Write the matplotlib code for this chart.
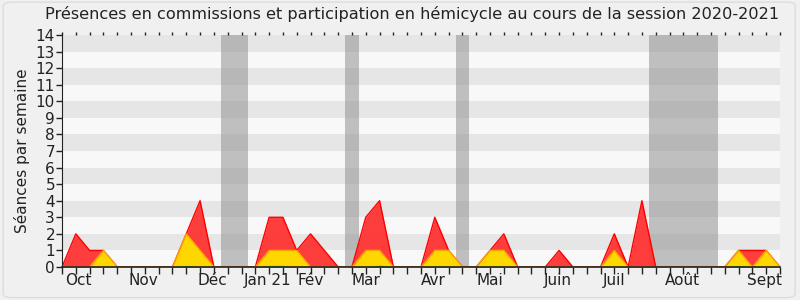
import matplotlib
matplotlib.use("Agg")
import matplotlib.pyplot as plt
from matplotlib.patches import FancyBboxPatch
import matplotlib.transforms as mtransforms
import numpy as np

weeks = list(range(53))
# red: presence (total), yellow: participation, green: small
red = [0, 2, 1, 1, 0, 0, 0, 0, 0, 2, 4, 0, 0, 0, 0, 3, 3, 1, 2, 1,
       0, 0, 3, 4, 0, 0, 0, 3, 1, 0, 0, 1, 2, 0, 0, 0, 1, 0, 0, 0,
       2, 0, 4, 0, 0, 0, 0, 0, 0, 1, 1, 1, 0]
yellow = [0, 0, 0, 1, 0, 0, 0, 0, 0, 2, 1, 0, 0, 0, 0, 1, 1, 1, 0, 0,
          0, 0, 1, 1, 0, 0, 0, 1, 1, 0, 0, 1, 1, 0, 0, 0, 0, 0, 0, 0,
          1, 0, 0, 0, 0, 0, 0, 0, 0, 1, 0, 1, 0]
green = [0, 0, 0, 0, 0, 0, 0, 0, 0, 0.1, 0, 0, 0, 0, 0, 0.1, 0.1, 0, 0, 0,
         0, 0, 0, 0.12, 0, 0, 0, 0.05, 0.05, 0, 0, 0.05, 0.05, 0, 0, 0, 0, 0, 0, 0,
         0, 0, 0, 0, 0, 0, 0, 0, 0, 0.1, 0, 0, 0]
vacations = [(11.5, 13.5), (20.5, 21.5), (28.5, 29.5), (42.5, 47.5)]
month_labels = ["Oct", "Nov", "Déc", "Jan 21", "Fév", "Mar", "Avr", "Mai",
                "Juin", "Juil", "Août", "Sept"]
month_pos = [1.2, 5.9, 10.9, 14.9, 18.0, 22.0, 26.9, 31.0, 35.9, 40.0, 44.9, 50.9]
title = "Présences en commissions et participation en hémicycle au cours de la session 2020-2021"

fig = plt.figure(figsize=(8, 3), dpi=100, facecolor="#F0F0F0")
bg = FancyBboxPatch((0.004, 0.008), 0.99, 0.985, boxstyle="round,pad=0,rounding_size=0.012",
                    transform=fig.transFigure, facecolor="#F0F0F0", edgecolor="#DDDDDD",
                    linewidth=1, zorder=-10)
fig.patches.append(bg)
ax = fig.add_axes([62/800, 33/300, 718/800, 232/300])
ax.set_xlim(0, 52)
ax.set_ylim(0, 14)

for k in range(14):
    ax.axhspan(k, k + 1, color="#E6E6E6" if k % 2 == 1 else "#F8F8F8", lw=0, zorder=0)
for a, b in vacations:
    ax.axvspan(a, b, color="#999999", alpha=0.6, lw=0, zorder=1)

x = np.array(weeks)
ax.fill_between(x, red, color="#FF3333", alpha=0.95, lw=0, zorder=2)
ax.plot(x, red, color="#FF0000", lw=1, zorder=3)
ax.fill_between(x, yellow, color="#FFD700", lw=0, zorder=4)
ax.plot(x, yellow, color="#FFA500", lw=1, zorder=5)
ax.fill_between(x, green, color="#33DD33", lw=0, zorder=6)

ax.set_yticks(range(15))
ax.set_yticklabels([str(i) for i in range(15)], fontsize=11, color="#222222")
ax.set_xticks(weeks)
ax.set_xticklabels([])
ax.tick_params(axis="x", which="major", length=5, width=1, color="#222222", top=True, labeltop=False)
ax.tick_params(axis="y", length=4, width=1, color="#222222", pad=1)
for t in ax.xaxis.get_major_ticks():
    t.tick2line.set_markersize(2)
    t.tick2line.set_color("#555555")
trans = mtransforms.blended_transform_factory(ax.transData, ax.transAxes)
for p, lab in zip(month_pos, month_labels):
    ax.text(p, -0.025, lab, transform=trans, ha="center", va="top", fontsize=11, color="#222222")

for s in ["top", "right"]:
    ax.spines[s].set_visible(False)
ax.spines["left"].set_color("#222222")
ax.spines["bottom"].set_color("#222222")
ax.spines["bottom"].set_linewidth(1.2)
ax.spines["bottom"].set_zorder(10)
ax.spines["left"].set_zorder(10)

ax.set_ylabel("Séances par semaine", fontsize=11, color="#222222", labelpad=4)
fig.text(0.515, 0.955, title, ha="center", va="center", fontsize=11.6, color="#222222")

fig.savefig("out.png", dpi=100, facecolor=fig.get_facecolor())
